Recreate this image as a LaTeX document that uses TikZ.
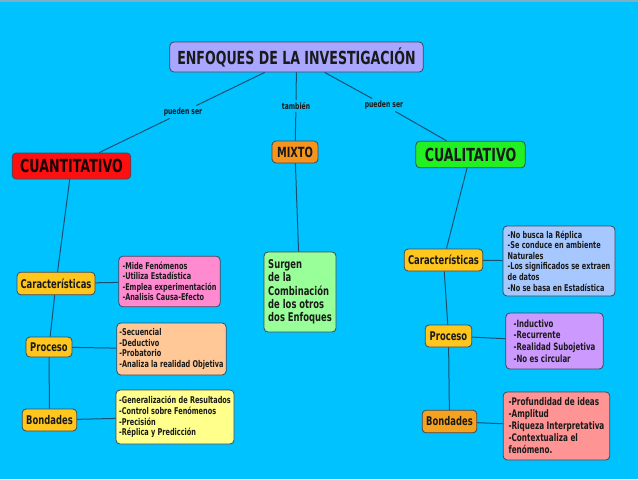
\documentclass[tikz,border=0pt]{standalone}
\usepackage{fontspec}
\setmainfont{DejaVu Sans}[FakeStretch=0.7]
\usepackage{tikz}
\definecolor{Fondo}{HTML}{00C2FF}
\definecolor{Franja}{HTML}{7FAFC4}
\definecolor{Enlace}{HTML}{1B4F72}
\definecolor{Borde}{HTML}{3A4A5C}
\definecolor{Texto}{HTML}{1A1A1A}
\definecolor{Lila}{HTML}{A9A6FF}
\definecolor{Rojo}{HTML}{FF1010}
\definecolor{Naranja}{HTML}{F7941D}
\definecolor{Verde}{HTML}{22F022}
\definecolor{Oro}{HTML}{FFC61E}
\definecolor{OroOsc}{HTML}{F5A21E}
\definecolor{Rosa}{HTML}{FF8AD0}
\definecolor{Durazno}{HTML}{FFC896}
\definecolor{Amarillo}{HTML}{FFFF8C}
\definecolor{VerdeClaro}{HTML}{99FF99}
\definecolor{Celeste}{HTML}{A6C8FF}
\definecolor{Morado}{HTML}{CC99FF}
\definecolor{Salmon}{HTML}{FF9494}
\tikzstyle{link} = [draw=Enlace, line width=0.75pt]
\tikzstyle{tag} = [inner sep=1.5pt, text=Texto, font=\fontsize{6.5}{7}\selectfont\bfseries]
\tikzstyle{caja} = [draw=Borde, line width=0.6pt, rounded corners=3pt, inner sep=0pt, text=Texto]
\tikzstyle{rama} = [caja, font=\fontsize{9}{10}\selectfont\bfseries]
\tikzstyle{lista} = [caja, align=left, font=\fontsize{7}{7.9}\selectfont\bfseries]

\begin{document}
\begin{tikzpicture}[x=0.75pt,y=-0.75pt]

	% fondo
	\fill[Fondo] (0,0) rectangle (638,479);
	\fill[Franja] (0,0) rectangle (638,1.5);

	% titulo y enfoques
	\node[caja, fill=Lila, minimum width=190pt, minimum height=22.5pt,
		font=\fontsize{13.5}{14}\selectfont\bfseries] (titulo) at (296.5,57) {ENFOQUES DE LA INVESTIGACIÓN};
	\node[caja, fill=Rojo, minimum width=89pt, minimum height=19.5pt, text=black!90!red,
		font=\fontsize{13.5}{14}\selectfont\bfseries] (cuanti) at (71.5,166) {CUANTITATIVO};
	\node[caja, fill=Naranja, minimum width=34.5pt, minimum height=16.5pt,
		font=\fontsize{10.5}{11}\selectfont\bfseries] (mixto) at (295,152) {MIXTO};
	\node[caja, fill=Verde, minimum width=82pt, minimum height=20pt,
		font=\fontsize{13.5}{14}\selectfont\bfseries] (cuali) at (470.5,154.5) {CUALITATIVO};

	\node[tag] (puedenA) at (183,112) {pueden ser};
	\node[tag] (tambien) at (296,106) {también};
	\node[tag] (puedenB) at (384,105) {pueden ser};

	\draw[link] (titulo) -- (puedenA) -- (cuanti);
	\draw[link] (titulo) -- (tambien) -- (mixto);
	\draw[link] (titulo) -- (puedenB) -- (cuali);

	% rama cuantitativa
	\node[rama, fill=Oro, minimum width=58.5pt, minimum height=17pt] (caracA) at (56,283.5) {Características};
	\node[rama, fill=Oro, minimum width=34.5pt, minimum height=15pt] (procA) at (49,347) {Proceso};
	\node[rama, fill=Oro, minimum width=41pt, minimum height=16.5pt] (bondA) at (49.5,420) {Bondades};

	\node[lista, fill=Rosa, minimum width=76pt, minimum height=38pt] (caracAtxt) at (169.5,281.5)
		{-Mide Fenómenos\\-Utiliza Estadística\\-Emplea experimentación\\-Analisis Causa-Efecto};
	\node[lista, fill=Durazno, minimum width=82pt, minimum height=39pt] (procAtxt) at (171.5,349)
		{-Secuencial\\-Deductivo\\-Probatorio\\-Analiza la realidad Objetiva};
	\node[lista, fill=Amarillo, minimum width=88.5pt, minimum height=40.5pt] (bondAtxt) at (175,417)
		{-Generalización de Resultados\\-Control sobre Fenómenos\\-Precisión\\-Réplica y Predicción};

	\draw[link] (cuanti) -- (caracA) -- (procA) -- (bondA);
	\draw[link] (caracA) -- (caracAtxt);
	\draw[link] (procA) -- (procAtxt);
	\draw[link] (bondA) -- (bondAtxt);

	% rama mixta
	\node[lista, fill=VerdeClaro, minimum width=54pt, minimum height=60pt,
		font=\fontsize{9}{10}\selectfont\bfseries] (mixtotxt) at (300,292)
		{Surgen\\de la\\Combinación\\de los otros\\dos Enfoques};
	\draw[link] (mixto) -- (mixtotxt);

	% rama cualitativa
	\node[rama, fill=Oro, minimum width=59pt, minimum height=16.5pt] (caracB) at (443.5,260) {Características};
	\node[rama, fill=Oro, minimum width=35pt, minimum height=16.5pt] (procB) at (448.5,336) {Proceso};
	\node[rama, fill=OroOsc, minimum width=41pt, minimum height=17pt] (bondB) at (449.5,421.5) {Bondades};

	\node[lista, fill=Celeste, minimum width=84pt, minimum height=52.5pt] (caracBtxt) at (559,261)
		{-No busca la Réplica\\-Se conduce en ambiente\\Naturales\\-Los significados se extraen\\de datos\\-No se basa en Estadística};
	\node[lista, fill=Morado, minimum width=73pt, minimum height=42pt,
		font=\fontsize{7.5}{8.7}\selectfont\bfseries] (procBtxt) at (554.5,341)
		{-Inductivo\\-Recurrente\\-Realidad Subojetiva\\-No es circular};
	\node[lista, fill=Salmon, minimum width=80pt, minimum height=51pt,
		font=\fontsize{7.8}{9}\selectfont\bfseries] (bondBtxt) at (556.5,426)
		{-Profundidad de ideas\\-Amplitud\\-Riqueza Interpretativa\\-Contextualiza el\\fenómeno.};

	\draw[link] (cuali) -- (caracB) -- (procB) -- (bondB);
	\draw[link] (caracB) -- (caracBtxt);
	\draw[link] (procB) -- (procBtxt);
	\draw[link] (bondB) -- (bondBtxt);

\end{tikzpicture}
\end{document}
